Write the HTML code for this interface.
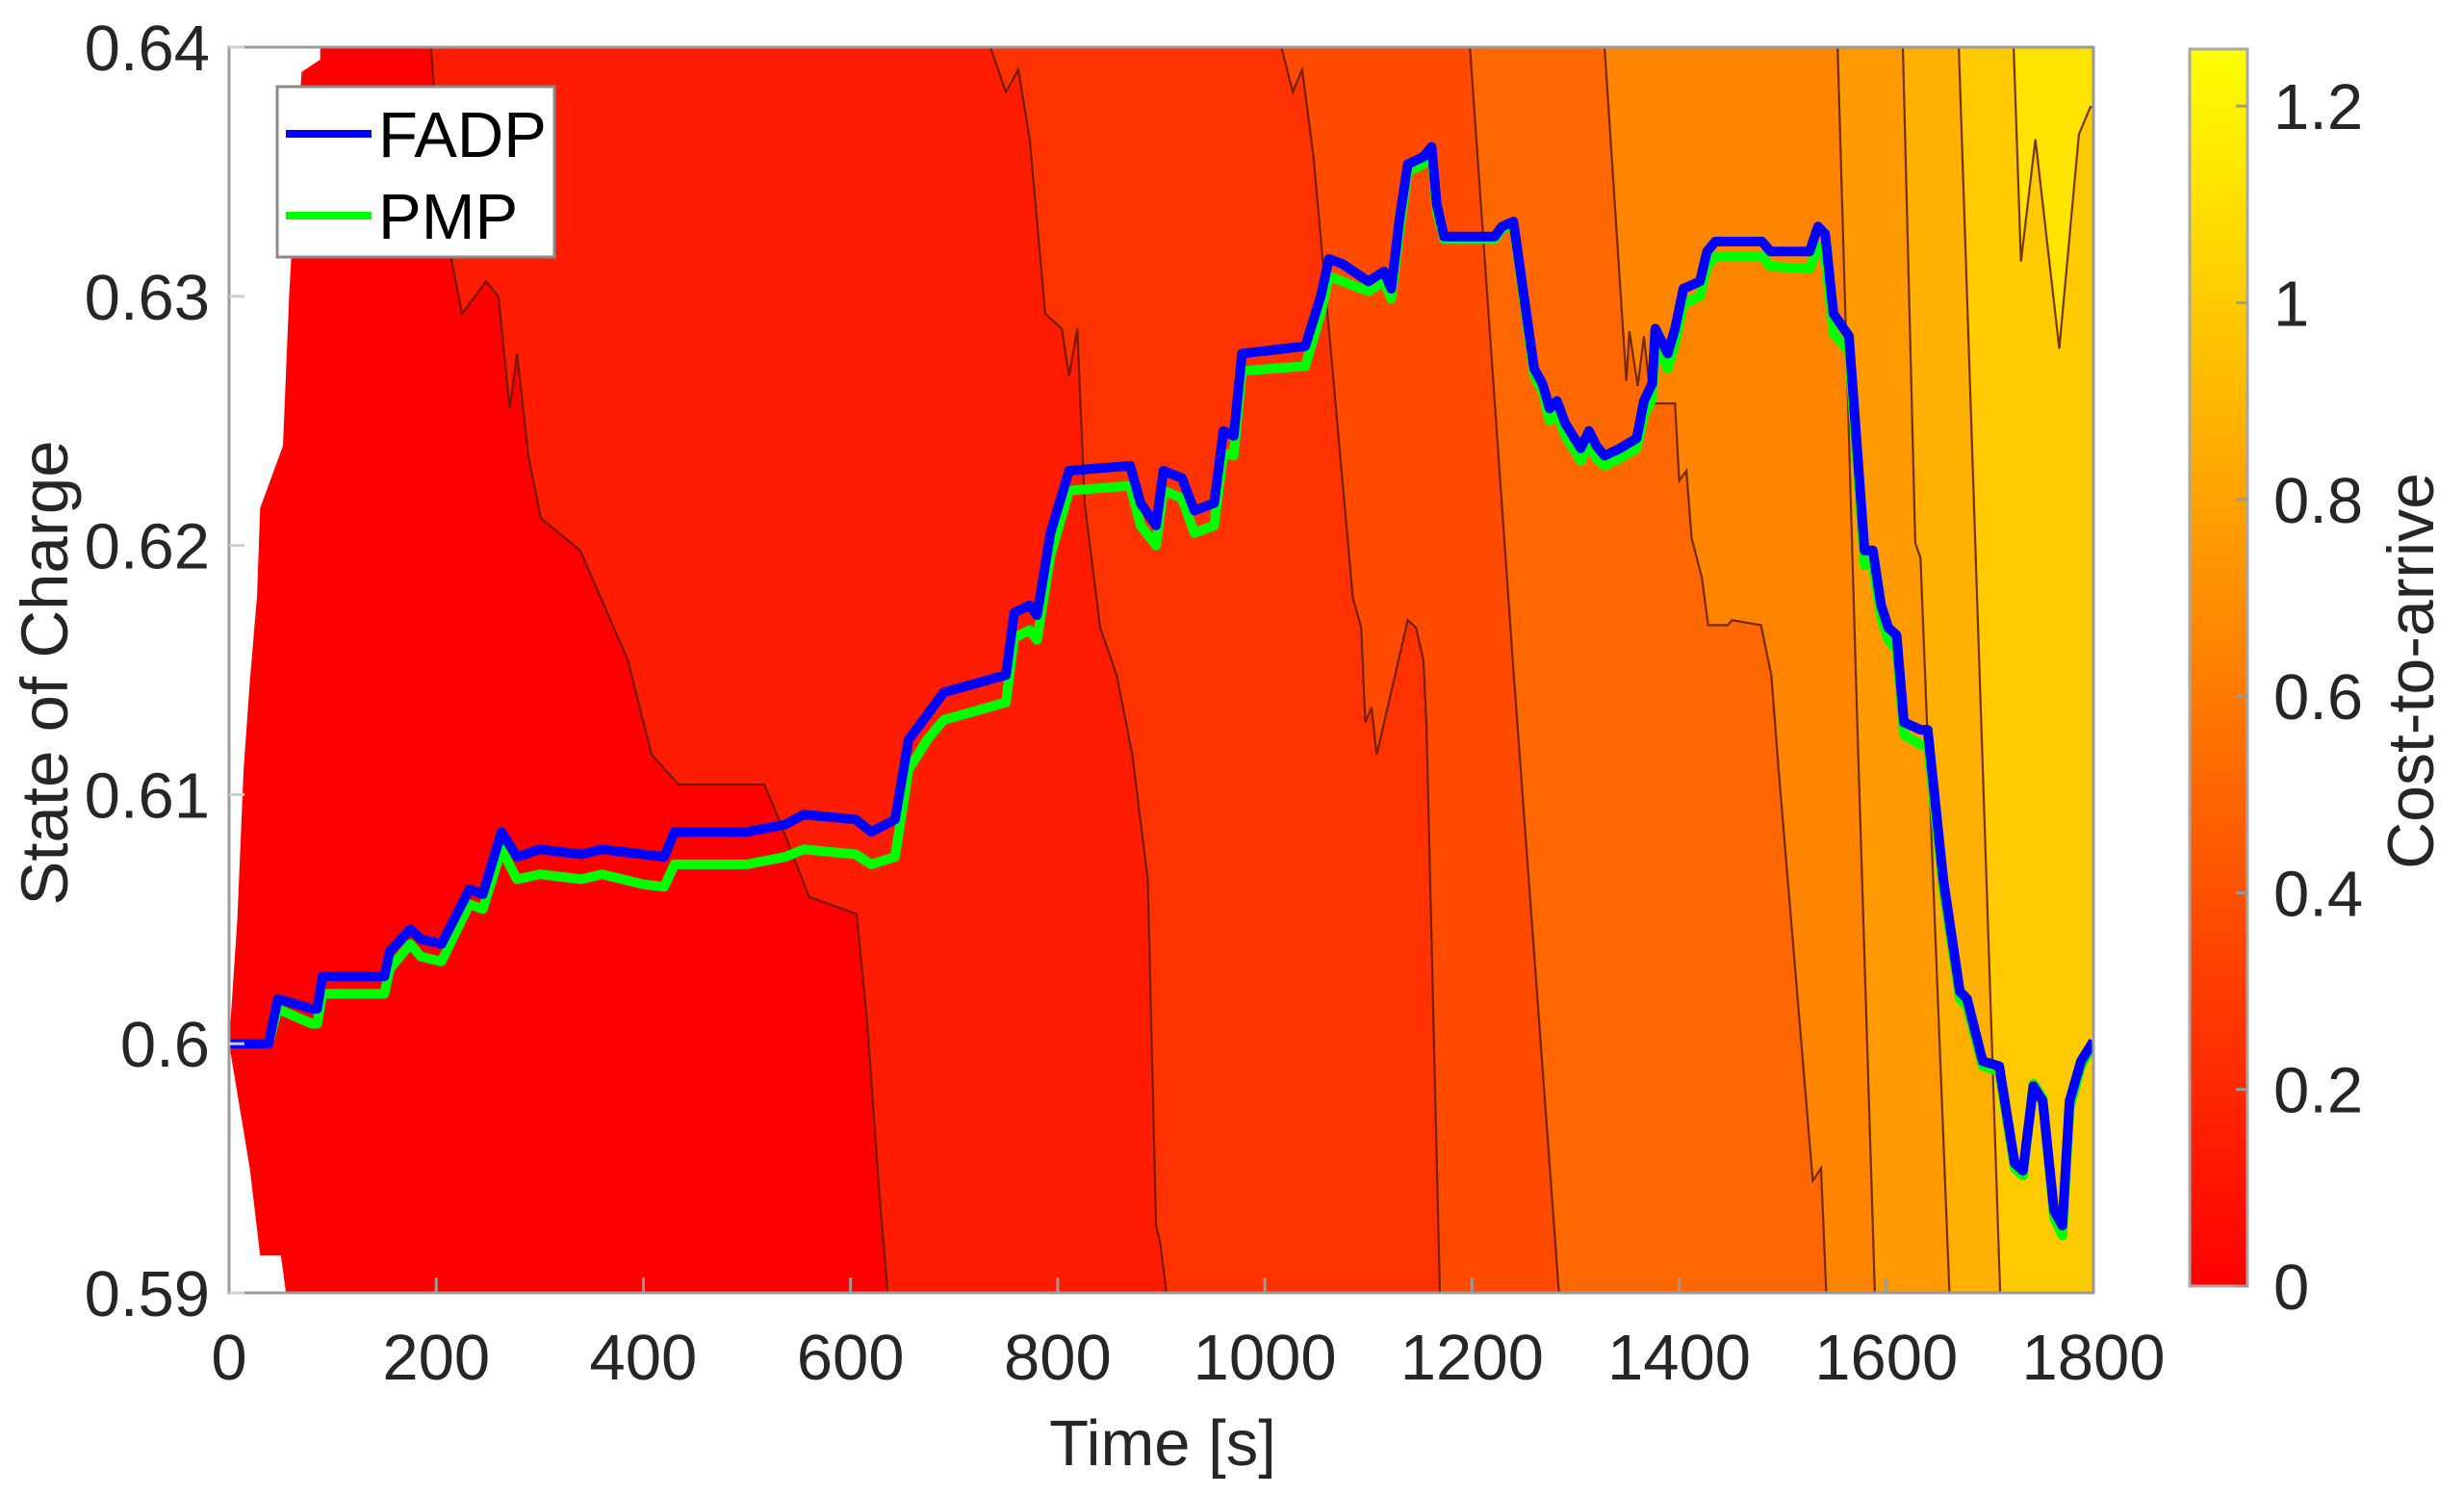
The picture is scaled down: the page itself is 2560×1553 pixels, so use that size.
<!DOCTYPE html>
<html><head><meta charset="utf-8"><style>
html,body{margin:0;padding:0;background:#fff;}
svg{display:block;font-family:"Liberation Sans",Arial,sans-serif;}
</style></head><body>
<svg id="chart" width="2560" height="1553" viewBox="0 0 2560 1553" xmlns="http://www.w3.org/2000/svg">
<defs>
<linearGradient id="cbGrad" x1="0" y1="1" x2="0" y2="0">
<stop offset="0" stop-color="#ff0000"/>
<stop offset="1" stop-color="#ffff00"/>
</linearGradient>
<clipPath id="plotClip"><rect x="238" y="49" width="1937" height="1294"/></clipPath>
</defs>
<g id="plot" clip-path="url(#plotClip)"></g>
<g id="axes"></g>
</svg>
<script>
const xTicks = [0,200,400,600,800,1000,1200,1400,1600,1800];
const yTicks = [0.59,0.60,0.61,0.62,0.63,0.64];
const yTickLabels = ["0.59","0.6","0.61","0.62","0.63","0.64"];
const cbTicks = [0,0.2,0.4,0.6,0.8,1,1.2];
const cbTickLabels = ["0","0.2","0.4","0.6","0.8","1","1.2"];
const cbMax = 1.258;
const bandColors = ["#ff0000","#ff1c00","#ff3200","#ff4a00","#ff6800","#ff8400","#ff9a00","#ffb000","#ffca00","#ffd400"];
const topBandColor = "#ffe400";

const timeFADP = [0,38,47,80,85,90,150,155,175,185,205,232,245,263,278,300,340,360,400,420,430,500,537,555,605,620,643,656,674,690,750,758,773,780,793,811,870,880,895,902,920,932,951,960,970,978,1039,1054,1062,1075,1100,1115,1122,1130,1138,1153,1161,1166,1173,1222,1229,1240,1260,1268,1275,1282,1290,1305,1313,1320,1328,1343,1359,1366,1374,1377,1389,1396,1404,1420,1427,1435,1480,1488,1526,1534,1541,1549,1564,1579,1587,1595,1602,1610,1617,1633,1640,1655,1671,1678,1693,1709,1724,1732,1742,1751,1762,1770,1777,1788,1800];
const socFADP = [0.6000,0.6000,0.6018,0.6014,0.6014,0.6027,0.6027,0.6037,0.6046,0.6042,0.6040,0.6062,0.6060,0.6085,0.6075,0.6078,0.6076,0.6078,0.6076,0.6075,0.6085,0.6085,0.6088,0.6092,0.6090,0.6085,0.6090,0.6122,0.6132,0.6141,0.6148,0.6173,0.6176,0.6172,0.6205,0.6230,0.6232,0.6217,0.6208,0.6230,0.6227,0.6214,0.6217,0.6246,0.6244,0.6277,0.6280,0.6300,0.6315,0.6313,0.6306,0.6310,0.6303,0.6331,0.6353,0.6356,0.6360,0.6337,0.6324,0.6324,0.6328,0.6330,0.6271,0.6265,0.6255,0.6258,0.6249,0.6239,0.6246,0.6240,0.6236,0.6239,0.6243,0.6258,0.6265,0.6287,0.6277,0.6287,0.6303,0.6306,0.6318,0.6322,0.6322,0.6318,0.6318,0.6328,0.6325,0.6293,0.6284,0.6198,0.6198,0.6176,0.6167,0.6164,0.6129,0.6126,0.6126,0.6066,0.6021,0.6018,0.5993,0.5991,0.5952,0.5949,0.5983,0.5977,0.5933,0.5927,0.5977,0.5993,0.6001];
const socPMP = [0.6000,0.6000,0.6014,0.6008,0.6008,0.6020,0.6020,0.6030,0.6040,0.6035,0.6033,0.6056,0.6054,0.6078,0.6066,0.6068,0.6066,0.6068,0.6064,0.6063,0.6072,0.6072,0.6075,0.6078,0.6076,0.6072,0.6075,0.6110,0.6122,0.6130,0.6137,0.6163,0.6166,0.6162,0.6196,0.6222,0.6224,0.6208,0.6200,0.6222,0.6219,0.6205,0.6208,0.6237,0.6236,0.6270,0.6272,0.6293,0.6308,0.6306,0.6302,0.6306,0.6299,0.6326,0.6350,0.6353,0.6357,0.6334,0.6323,0.6323,0.6327,0.6329,0.6268,0.6262,0.6250,0.6253,0.6244,0.6234,0.6241,0.6235,0.6232,0.6235,0.6239,0.6252,0.6259,0.6280,0.6271,0.6281,0.6297,0.6300,0.6312,0.6316,0.6316,0.6312,0.6311,0.6320,0.6316,0.6285,0.6278,0.6192,0.6192,0.6171,0.6162,0.6158,0.6124,0.6120,0.6120,0.6062,0.6018,0.6015,0.5991,0.5989,0.5950,0.5947,0.5984,0.5978,0.5930,0.5923,0.5974,0.5991,0.6000];

const contourT1 = [195,207,225,248,260,271,278,289,301,339,385,408,434,517,530,560,606,616,628,636];
const contourS1 = [0.6400,0.6331,0.6293,0.6306,0.6300,0.6255,0.6277,0.6236,0.6211,0.6198,0.6154,0.6116,0.6104,0.6104,0.6091,0.6059,0.6052,0.6009,0.5939,0.5900];
const contourT2 = [735,750,762,773,788,804,811,819,826,841,857,872,887,895,899,905];
const contourS2 = [0.6400,0.6382,0.6391,0.6363,0.6293,0.6287,0.6268,0.6287,0.6217,0.6167,0.6148,0.6116,0.6066,0.5927,0.5920,0.5900];
const contourT3 = [1016,1027,1036,1047,1085,1093,1097,1103,1108,1138,1146,1153,1156,1169];
const contourS3 = [0.6400,0.6382,0.6391,0.6356,0.6179,0.6167,0.6129,0.6135,0.6116,0.6170,0.6167,0.6154,0.6129,0.5900];
const contourT4 = [1198,1240,1284];
const contourS4 = [0.6400,0.6150,0.5900];
const contourT5 = [1328,1349,1352,1360,1366,1373,1396,1400,1407,1412,1422,1428,1447,1451,1479,1489,1496,1529,1537,1542];
const contourS5 = [0.6400,0.6266,0.6286,0.6264,0.6284,0.6257,0.6257,0.6226,0.6230,0.6203,0.6187,0.6168,0.6168,0.6170,0.6168,0.6148,0.6110,0.5945,0.5950,0.5900];
const contourT6 = [1553,1572,1589];
const contourS6 = [0.6400,0.6129,0.5900];
const contourT7 = [1616,1628,1633,1661];
const contourS7 = [0.6400,0.6201,0.6195,0.5900];
const contourT8 = [1670,1690,1710];
const contourS8 = [0.6400,0.6150,0.5900];
const contourT9 = [1723,1730,1744,1767,1786,1797,1800];
const contourS9 = [0.6400,0.6314,0.6363,0.6279,0.6365,0.6376,0.6376];

const blankTopT = [0,88,88,70,58,52,30,27,20,14,8,0];
const blankTopS = [0.6400,0.6400,0.6395,0.6390,0.6300,0.6240,0.6215,0.6180,0.6145,0.6110,0.6050,0.6000];
const blankBotT = [0,12,20,30,50,55,0];
const blankBotS = [0.6000,0.5970,0.5950,0.5915,0.5915,0.5900,0.5900];

const X0=238,X1=2175,Y0=49,Y1=1343;
const xs = t => X0 + (t-0)/(1800-0)*(X1-X0);
const ys = s => Y1 - (s-0.59)/(0.64-0.59)*(Y1-Y0);
const CB_X=2275, CB_W=60, CB_TOP=51, CB_BOT=1336;
const cs = v => CB_BOT - v/cbMax*(CB_BOT-CB_TOP);
const NS="http://www.w3.org/2000/svg";
const plot=document.getElementById('plot'), axes=document.getElementById('axes');
function mk(tag, attrs, parent){const e=document.createElementNS(NS,tag);for(const k in attrs)e.setAttribute(k,attrs[k]);parent.appendChild(e);return e;}
function pts(T,S){return T.map((t,i)=>xs(t).toFixed(1)+','+ys(S[i]).toFixed(1)).join(' ');}

const contours=[[contourT1,contourS1],[contourT2,contourS2],[contourT3,contourS3],[contourT4,contourS4],[contourT5,contourS5],[contourT6,contourS6],[contourT7,contourS7],[contourT8,contourS8]];
// bands: left edge, contours 1..8, right edge
const edgesL=[[[0,0],[0.64,0.59]]].concat(contours).concat([[[1800,1800],[0.64,0.59]]]);
for(let i=0;i<edgesL.length-1;i++){
  const a=edgesL[i], b=edgesL[i+1];
  const T=a[0].concat(b[0].slice().reverse()), S=a[1].concat(b[1].slice().reverse());
  const p=mk('polygon',{points:pts(T,S),fill:bandColors[i],stroke:bandColors[i],'stroke-width':1},plot);
  
  
}
{
  const T=contourT9.concat([1800]), S=contourS9.concat([0.64]);
  const p=mk('polygon',{points:pts(T,S),fill:topBandColor},plot);
  
  
}
let w1=mk('polygon',{points:pts(blankTopT,blankTopS),fill:'#ffffff'},plot);


let w2=mk('polygon',{points:pts(blankBotT,blankBotS),fill:'#ffffff'},plot);



contours.concat([[contourT9,contourS9]]).forEach((c,i)=>{
  const l=mk('polyline',{points:pts(c[0],c[1]),fill:'none',stroke:'#5a1a00','stroke-width':2.2,'stroke-opacity':0.85},plot);
  
  
});
let pmp=mk('polyline',{points:pts(timeFADP,socPMP),fill:'none',stroke:'#00ff00','stroke-width':10,'stroke-linejoin':'round'},plot);


let fadp=mk('polyline',{points:pts(timeFADP,socFADP),fill:'none',stroke:'#0000ff','stroke-width':10,'stroke-linejoin':'round'},plot);



let box=mk('rect',{x:X0,y:Y0,width:X1-X0,height:Y1-Y0,fill:'none',stroke:'#9a9a9a','stroke-width':3},axes);


xTicks.forEach((t,i)=>{
  mk('line',{x1:xs(t),x2:xs(t),y1:Y1,y2:Y1-16,stroke:'#9a9a9a','stroke-width':3},axes);
  const tx=mk('text',{x:xs(t),y:1433,'font-size':67,fill:'#262626','text-anchor':'middle'},axes);
  tx.textContent=String(t);
  
  
});
yTicks.forEach((s,i)=>{
  mk('line',{x1:X0,x2:X0+16,y1:ys(s),y2:ys(s),stroke:'#cfcfcf','stroke-width':3},axes);
  const tx=mk('text',{x:218,y:ys(s)+24,'font-size':67,fill:'#262626','text-anchor':'end'},axes);
  tx.textContent=yTickLabels[i];
  
  
});
let xl=mk('text',{x:1208,y:1522,'font-size':67,fill:'#262626','text-anchor':'middle'},axes);
xl.textContent='Time [s]';


let yl=mk('text',{x:0,y:0,'font-size':69,fill:'#262626','text-anchor':'middle',transform:'translate(70,699) rotate(-90)'},axes);
yl.textContent='State of Charge';



let cb=mk('rect',{x:CB_X,y:CB_TOP,width:CB_W,height:CB_BOT-CB_TOP,fill:'url(#cbGrad)',stroke:'#a8a8a8','stroke-width':3},axes);


cbTicks.forEach((v,i)=>{
  mk('line',{x1:CB_X+CB_W-12,x2:CB_X+CB_W,y1:cs(v),y2:cs(v),stroke:'#9a9a9a','stroke-width':3},axes);
  const tx=mk('text',{x:2362,y:cs(v)+24,'font-size':67,fill:'#262626'},axes);
  tx.textContent=cbTickLabels[i];
  
  
});
let cl=mk('text',{x:0,y:0,'font-size':68,fill:'#262626','text-anchor':'middle',transform:'translate(2528,697) rotate(-90)'},axes);
cl.textContent='Cost-to-arrive';



const lg=mk('g',{},axes);


mk('rect',{x:288,y:90,width:288,height:177,fill:'#ffffff',stroke:'#8a8a8a','stroke-width':3},lg);
const legNames=['FADP','PMP'], legColors=['#0000ff','#00ff00'], legY=[139,224];
legNames.forEach((n,i)=>{
  const g=mk('g',{},lg);
  
  
  mk('line',{x1:297,x2:386,y1:legY[i],y2:legY[i],stroke:legColors[i],'stroke-width':8},g);
  const t=mk('text',{x:393,y:legY[i]+24,'font-size':67,fill:'#000'},g);
  t.textContent=n;
});
</script>
</body></html>
